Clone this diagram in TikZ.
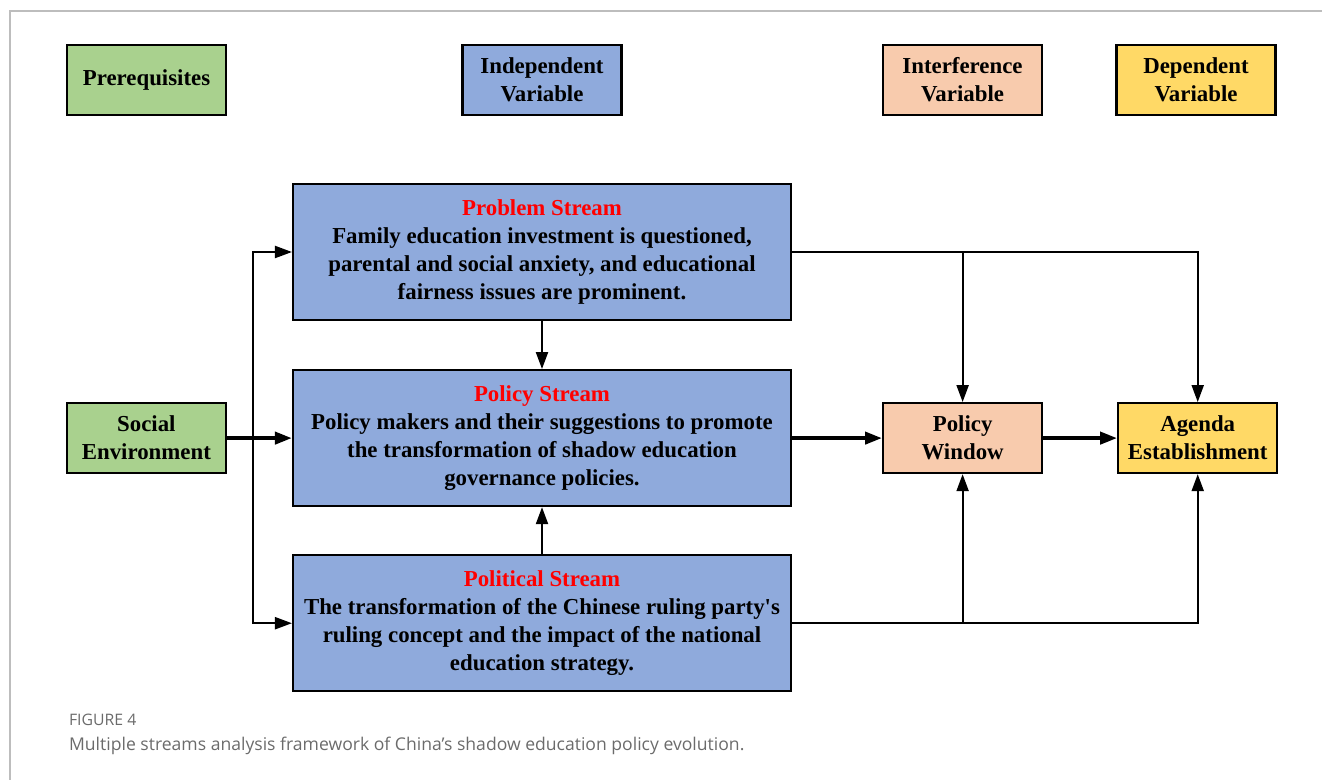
\documentclass[tikz,border=0pt]{standalone}
\usepackage{fontspec}
\setmainfont{Liberation Serif}
\newfontfamily\capfont{Open Sans}
\usetikzlibrary{arrows.meta, positioning}
\definecolor{prgreen}{HTML}{A9D18E}
\definecolor{stblue}{HTML}{8FAADC}
\definecolor{wpeach}{HTML}{F8CBAD}
\definecolor{agyellow}{HTML}{FFD966}
\definecolor{framegray}{HTML}{BDBDBD}
\definecolor{capgray}{HTML}{6B6B6B}

\begin{document}
\begin{tikzpicture}[->, >={Triangle[length=0.34cm, width=0.24cm]}, line width=1.2pt,
font=\fontsize{13}{16}\selectfont\bfseries,
small/.style={draw, inner sep=0pt, minimum width=3.18cm, minimum height=1.4cm, align=center},
big/.style={draw, fill=stblue, inner sep=0pt, minimum width=9.96cm, minimum height=2.72cm, align=center},
heavy/.style={line width=2.2pt}]

\useasboundingbox (0,0) rectangle (26.44,-15.6);
\draw [-, framegray, line width=0.8pt] (26.44,-0.22) -- (0.2,-0.22) -- (0.2,-15.6);

% legend row
\node [small, fill=prgreen] (prereq) at (2.93,-1.6) {Prerequisites};
\node [small, fill=stblue] (indep) at (10.84,-1.6) {Independent\\Variable};
\node [small, fill=wpeach] (interf) at (19.25,-1.6) {Interference\\Variable};
\node [small, fill=agyellow] (dep) at (23.92,-1.6) {Dependent\\Variable};

% the three streams
\node [big] (problem) at (10.84,-5.04) {\textcolor{red}{Problem Stream}\\
Family education investment is questioned,\\
parental and social anxiety, and educational\\
fairness issues are prominent.};
\node [big] (policy) [below=0.96cm of problem] {\textcolor{red}{Policy Stream}\\
Policy makers and their suggestions to promote\\
the transformation of shadow education\\
governance policies.};
\node [big] (political) [below=0.94cm of policy] {\textcolor{red}{Political Stream}\\
The transformation of the Chinese ruling party\textquotesingle s\\
ruling concept and the impact of the national\\
education strategy.};

\node [small, fill=prgreen] (social) [left=1.30cm of policy] {Social\\Environment};
\node [small, fill=wpeach] (window) [right=1.80cm of policy] {Policy\\Window};
\node [small, fill=agyellow] (agenda) [right=1.48cm of window] {Agenda\\Establishment};

\coordinate (split) at (5.06,-8.75);
\path (social) edge [heavy] (policy);
\draw (split) |- (problem);
\draw (split) |- (political);
\path (problem) edge (policy);
\path (political) edge (policy);

\path (policy) edge [heavy] (window);
\path (window) edge [heavy] (agenda);

\draw (problem.east) -| (agenda);
\draw (problem.east -| window) -- (window);
\draw (political.east) -| (agenda);
\draw (political.east -| window) -- (window);

% caption
\node [anchor=base west, inner sep=0pt, text=capgray, font=\capfont\fontsize{9}{10}\selectfont] (figlabel) at (1.36,-14.5) {FIGURE 4};
\node [anchor=base west, inner sep=0pt, text=capgray, font=\capfont\fontsize{10}{12}\selectfont] (figcap) at (1.36,-15.0) {Multiple streams analysis framework of China’s shadow education policy evolution.};

\end{tikzpicture}
\end{document}
